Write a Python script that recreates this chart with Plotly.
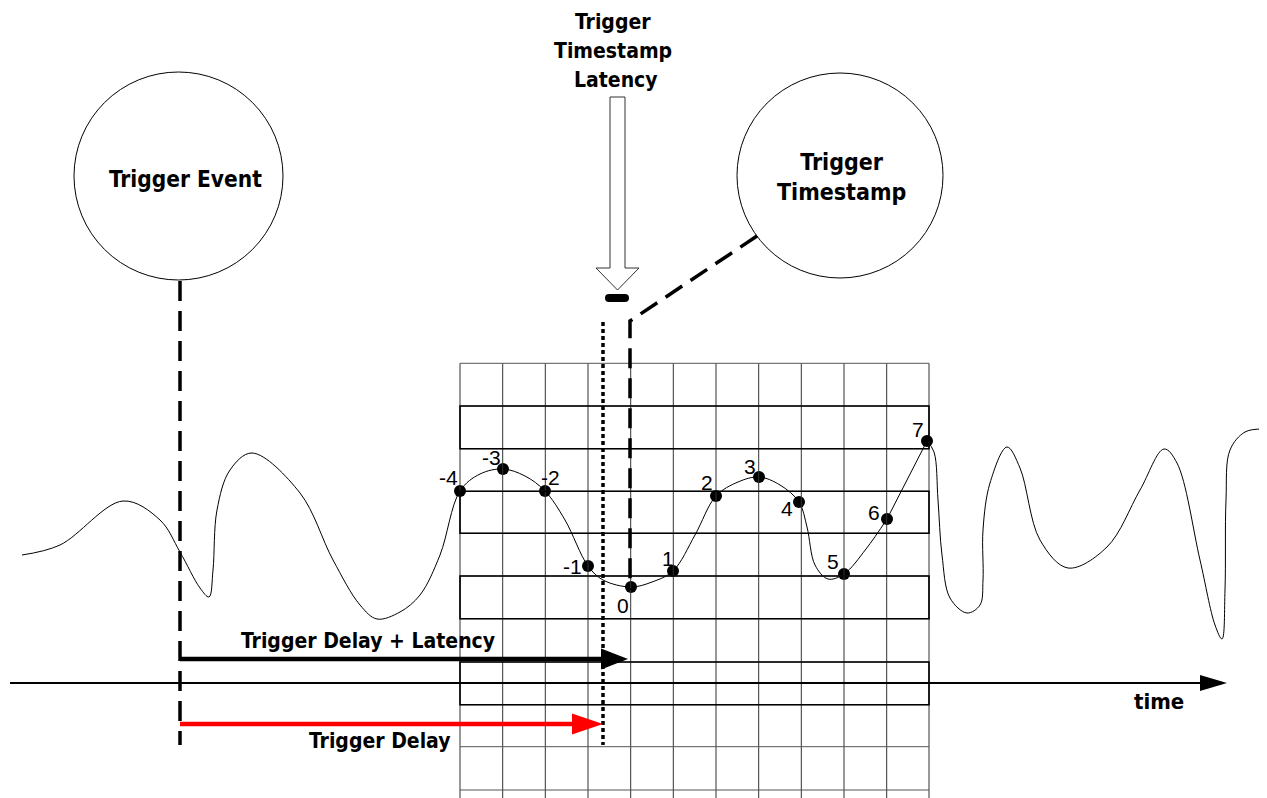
import plotly.graph_objects as go

# ---------------------------------------------------------------------------
# Diagram data (pixel space: x to the right, y downward)
W, H = 1267, 798
OFF = 8  # default page body margin

# waveform before the sample window, through samples, and after it
wave_left_x = [22, 60, 123, 160, 180, 200, 209, 213, 217, 230, 252, 300, 333, 360, 377, 400, 420, 440, 460]
wave_left_y = [555, 545, 501, 520, 552, 588, 597, 570, 510, 470, 453, 493, 560, 605, 619, 612, 595, 555, 491]
wave_mid_x = [460, 480, 503, 525, 545, 565, 588, 603, 631, 652, 673, 695, 716, 738, 759, 780, 799, 807, 815, 828, 844, 866, 887]
wave_mid_y = [491, 474, 469, 476, 491, 520, 566, 580, 587, 582, 571, 535, 496, 482, 477, 485, 502, 527, 565, 579, 574, 549, 519]
wave_right_x = [927, 934, 938, 942, 950, 967, 980, 983, 983, 990, 1007, 1020, 1040, 1068, 1107, 1140, 1164, 1177,
                1200, 1215, 1222, 1225, 1226, 1230, 1245, 1263]
wave_right_y = [441, 452, 500, 555, 598, 613, 605, 580, 530, 483, 447, 468, 540, 568, 547, 490, 449, 463,
                560, 625, 639, 590, 500, 450, 432, 429]

# sample points and their labels
sample_labels = ["-4", "-3", "-2", "-1", "0", "1", "2", "3", "4", "5", "6", "7"]
sample_x = [460, 503, 545, 588, 631, 673, 716, 759, 799, 844, 887, 927]
sample_y = [491, 469, 491, 566, 587, 571, 496, 477, 502, 574, 519, 441]
label_x = [448, 491, 550, 572, 623, 668, 707, 750, 787, 833, 874, 918]
label_y = [477, 457, 477, 566, 605, 558, 482, 466, 508, 561, 512, 429]

# oscilloscope-style grid
grid_x = [460, 502.7, 545.3, 588, 630.7, 673.3, 716, 758.7, 801.3, 844, 886.7, 929]
grid_y = [363.3, 406, 448.7, 491.3, 533.3, 576, 618.7, 662, 704.7, 746.7, 790]
box_rows = [(406, 448.7), (491.3, 533.3), (576, 618.7), (662, 704.7)]

FONT = "Liberation Sans Narrow, DejaVu Sans Condensed, Arial Narrow, sans-serif"
PLAIN = "Liberation Sans, Arial, sans-serif"

fig = go.Figure()
shapes = []

# grid
for gx in grid_x:
    shapes.append(dict(type="line", x0=gx, x1=gx, y0=grid_y[0], y1=H, line=dict(color="#333", width=1)))
for gy in grid_y:
    shapes.append(dict(type="line", x0=grid_x[0], x1=grid_x[-1], y0=gy, y1=gy, line=dict(color="#555", width=1)))
for y0, y1 in box_rows:
    shapes.append(dict(type="rect", x0=grid_x[0], x1=grid_x[-1], y0=y0, y1=y1, line=dict(color="black", width=1.6)))

# circles
shapes.append(dict(type="circle", x0=74, x1=283, y0=72, y1=280, line=dict(color="black", width=1)))
shapes.append(dict(type="circle", x0=737, x1=943, y0=73, y1=278, line=dict(color="black", width=1)))

# time axis
shapes.append(dict(type="line", x0=10, x1=1205, y0=683, y1=683, line=dict(color="black", width=2)))
shapes.append(dict(type="path", path="M 1200 675 L 1227 683 L 1200 691 Z", fillcolor="black", line=dict(width=0)))

# dashed / dotted markers
shapes.append(dict(type="line", x0=180, x1=180, y0=281, y1=745, line=dict(color="black", width=3.5, dash="20px,10px")))
shapes.append(dict(type="path", path="M 757 236 L 630 321 L 630 590",
                   line=dict(color="black", width=3.5, dash="20px,10px")))
shapes.append(dict(type="line", x0=603, x1=603, y0=322, y1=745, line=dict(color="black", width=3.5, dash="4px,3px")))
shapes.append(dict(type="path",
                   path="M 609 294 L 625 294 Q 629 294 629 298 Q 629 302 625 302 L 609 302 "
                        "Q 605 302 605 298 Q 605 294 609 294 Z",
                   fillcolor="black", line=dict(width=0)))

# hollow down arrow
shapes.append(dict(type="path",
                   path="M 610 97 L 625 97 L 625 268 L 639 268 L 617.5 290 L 596 268 L 610 268 Z",
                   fillcolor="white", line=dict(color="#333", width=1)))

# delay arrows
shapes.append(dict(type="line", x0=180, x1=605, y0=659, y1=659, line=dict(color="black", width=4.5)))
shapes.append(dict(type="path", path="M 601 648.5 L 628 659 L 601 669.5 Z", fillcolor="black", line=dict(width=0)))
shapes.append(dict(type="line", x0=180, x1=575, y0=724, y1=724, line=dict(color="red", width=4.5)))
shapes.append(dict(type="path", path="M 572 713.5 L 603 724 L 572 734.5 Z", fillcolor="red", line=dict(width=0)))

# waveform
fig.add_trace(go.Scatter(x=wave_left_x + wave_mid_x[1:], y=wave_left_y + wave_mid_y[1:], mode="lines",
                         line=dict(color="black", width=1, shape="spline"), hoverinfo="skip"))
fig.add_trace(go.Scatter(x=[wave_mid_x[-1], wave_right_x[0]], y=[wave_mid_y[-1], wave_right_y[0]], mode="lines",
                         line=dict(color="black", width=1), hoverinfo="skip"))
fig.add_trace(go.Scatter(x=wave_right_x, y=wave_right_y, mode="lines",
                         line=dict(color="black", width=1, shape="spline"), hoverinfo="skip"))
fig.add_trace(go.Scatter(x=sample_x, y=sample_y, mode="markers",
                         marker=dict(color="black", size=12), hoverinfo="skip"))

annotations = []
for t, lx, ly in zip(sample_labels, label_x, label_y):
    annotations.append(dict(x=lx, y=ly, text=t, showarrow=False, font=dict(family=PLAIN, size=21, color="black")))

bold_texts = [
    ("<b>Trigger Event</b>", 185, 179, 22.5),
    ("<b>Trigger<br>Timestamp</b>", 841, 177, 23),
    ("<b>Trigger</b>", 613, 22, 21),
    ("<b>Timestamp</b>", 613, 51, 21),
    ("<b>Latency</b>", 616, 80, 21),
    ("<b>Trigger Delay + Latency</b>", 368, 641, 21),
    ("<b>Trigger Delay</b>", 380, 741, 21),
    ("<b>time</b>", 1159, 701, 22),
]
for t, tx, ty, sz in bold_texts:
    annotations.append(dict(x=tx, y=ty, text=t, showarrow=False,
                            font=dict(family=FONT, size=sz, color="black")))

fig.update_layout(
    width=W - OFF, height=H - OFF, margin=dict(l=0, r=0, t=0, b=0),
    paper_bgcolor="white", plot_bgcolor="white", showlegend=False,
    xaxis=dict(range=[OFF, W], visible=False, fixedrange=True),
    yaxis=dict(range=[H, OFF], visible=False, fixedrange=True),
    shapes=shapes, annotations=annotations,
)

fig.write_html("out.html", config={"displayModeBar": False})
